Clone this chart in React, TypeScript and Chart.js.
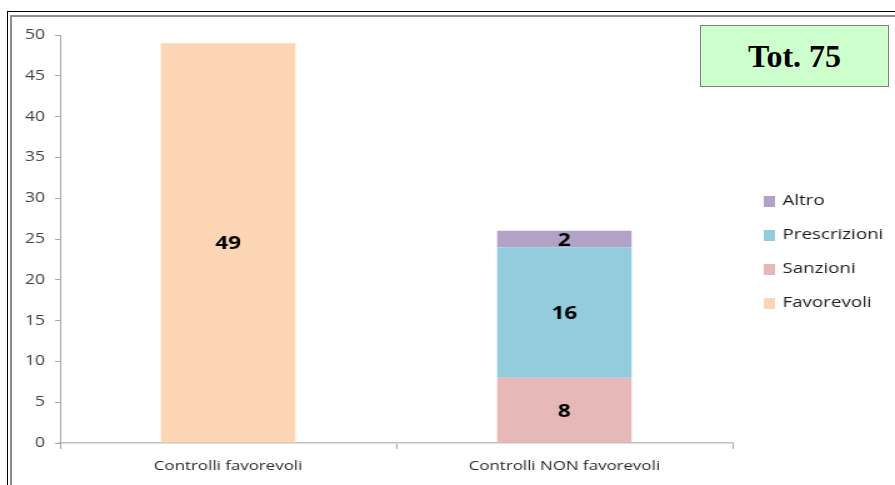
import React, { useEffect, useRef } from "react";
import { Chart, registerables } from "chart.js";

Chart.register(...registerables);

// Categories and series (stacked)
const categories = ["Controlli favorevoli", "Controlli NON favorevoli"];
const favorevoli = [49, 0];
const sanzioni = [0, 8];
const prescrizioni = [0, 16];
const altro = [0, 2];
const yTicksMax = 50;
const yTicksStep = 5;
const totalLabel = "Tot. 75";

const FONT = "'Open Sans', 'DejaVu Sans', sans-serif";

// The chart is drawn on a narrower backing canvas and widened with CSS,
// which gives the horizontally stretched look of the lettering.
const VIEW_W = 895;
const VIEW_H = 485;
const STRETCH = 1.25;
const CANVAS_W = Math.round(VIEW_W / STRETCH);

// Writes each non-zero segment's value in the middle of the segment
const valueLabels = {
  id: "valueLabels",
  afterDatasetsDraw(chart: any) {
    const ctx = chart.ctx;
    ctx.save();
    ctx.font = `bold 18px ${FONT}`;
    ctx.fillStyle = "#000";
    ctx.textAlign = "center";
    ctx.textBaseline = "middle";
    chart.data.datasets.forEach((ds: any, di: number) => {
      const meta = chart.getDatasetMeta(di);
      meta.data.forEach((el: any, i: number) => {
        const v = ds.data[i];
        if (!v) return;
        const { x, y, base } = el.getProps(["x", "y", "base"], true);
        ctx.fillText(String(v), x, (y + base) / 2 + 1.5);
      });
    });
    ctx.restore();
  },
};

// Legend on the right, listed from the top of the stack down
const sideLegend = {
  id: "sideLegend",
  afterDraw(chart: any) {
    const ctx = chart.ctx;
    const items = chart.data.datasets.map((d: any) => d).reverse();
    const x0 = chart.chartArea.right + 25;
    const y0 = 201;
    const gap = 34;
    ctx.save();
    ctx.font = `15px ${FONT}`;
    ctx.textBaseline = "middle";
    ctx.textAlign = "left";
    items.forEach((d: any, i: number) => {
      const cy = y0 + i * gap;
      ctx.fillStyle = d.backgroundColor;
      ctx.fillRect(x0, cy - 5, 9, 11);
      ctx.fillStyle = "#1a1a1a";
      ctx.fillText(d.label, x0 + 15, cy);
    });
    ctx.restore();
  },
};

export default function App() {
  const canvasRef = useRef<HTMLCanvasElement | null>(null);

  useEffect(() => {
    if (!canvasRef.current) return;
    const chart = new Chart(canvasRef.current, {
      type: "bar",
      data: {
        labels: categories,
        datasets: [
          { label: "Favorevoli", data: favorevoli, backgroundColor: "#FCD5B5" },
          { label: "Sanzioni", data: sanzioni, backgroundColor: "#E6B9B8" },
          { label: "Prescrizioni", data: prescrizioni, backgroundColor: "#93CDDD" },
          { label: "Altro", data: altro, backgroundColor: "#B3A2C7" },
        ],
      },
      options: {
        responsive: false,
        maintainAspectRatio: false,
        animation: false,
        devicePixelRatio: 1,
        layout: { padding: { left: 0, top: 35, right: 130, bottom: 0 } },
        datasets: { bar: { barPercentage: 0.4, categoryPercentage: 1 } },
        plugins: {
          legend: { display: false },
          tooltip: { enabled: false },
        },
        scales: {
          x: {
            stacked: true,
            afterFit(scale: any) {
              scale.height = 42;
            },
            grid: {
              drawOnChartArea: false,
              offset: true,
              tickLength: 6,
              color: "#A6A6A6",
            },
            border: { color: "#BFBFBF", width: 1.5 },
            ticks: {
              color: "#262626",
              font: { family: FONT, size: 13.5 },
              padding: 9,
            },
          },
          y: {
            stacked: true,
            min: 0,
            max: yTicksMax,
            afterFit(scale: any) {
              scale.width = 48;
            },
            grid: {
              drawOnChartArea: false,
              tickLength: 4,
              color: "#A6A6A6",
            },
            border: { color: "#A6A6A6", width: 1 },
            ticks: {
              stepSize: yTicksStep,
              color: "#404040",
              font: { family: FONT, size: 14 },
              padding: 8,
            },
          },
        },
      },
      plugins: [valueLabels, sideLegend],
    });
    return () => chart.destroy();
  }, []);

  return (
    <div
      style={{
        position: "fixed",
        left: 0,
        top: 0,
        width: VIEW_W,
        height: VIEW_H,
        overflow: "hidden",
        background: "#fff",
      }}
    >
      <div
        style={{
          position: "absolute",
          left: 7,
          top: 11,
          width: 960,
          height: 560,
          border: "1.5px solid #000",
          boxSizing: "border-box",
        }}
      />
      <div
        style={{
          position: "absolute",
          left: 10,
          top: 15,
          width: 960,
          height: 560,
          border: "2px solid #8c8c8c",
          boxSizing: "border-box",
        }}
      />
      <canvas
        ref={canvasRef}
        width={CANVAS_W}
        height={VIEW_H}
        style={{
          position: "absolute",
          left: 0,
          top: 0,
          width: VIEW_W,
          height: VIEW_H,
        }}
      />
      <div
        style={{
          position: "absolute",
          left: 700,
          top: 25,
          width: 189,
          height: 62,
          boxSizing: "border-box",
          border: "1.5px solid #808080",
          background: "#CCFFCC",
          display: "flex",
          alignItems: "center",
          justifyContent: "center",
          fontFamily: "'Liberation Serif', 'Times New Roman', serif",
          fontWeight: "bold",
          fontSize: 32,
          color: "#000",
        }}
      >
        {totalLabel}
      </div>
    </div>
  );
}
